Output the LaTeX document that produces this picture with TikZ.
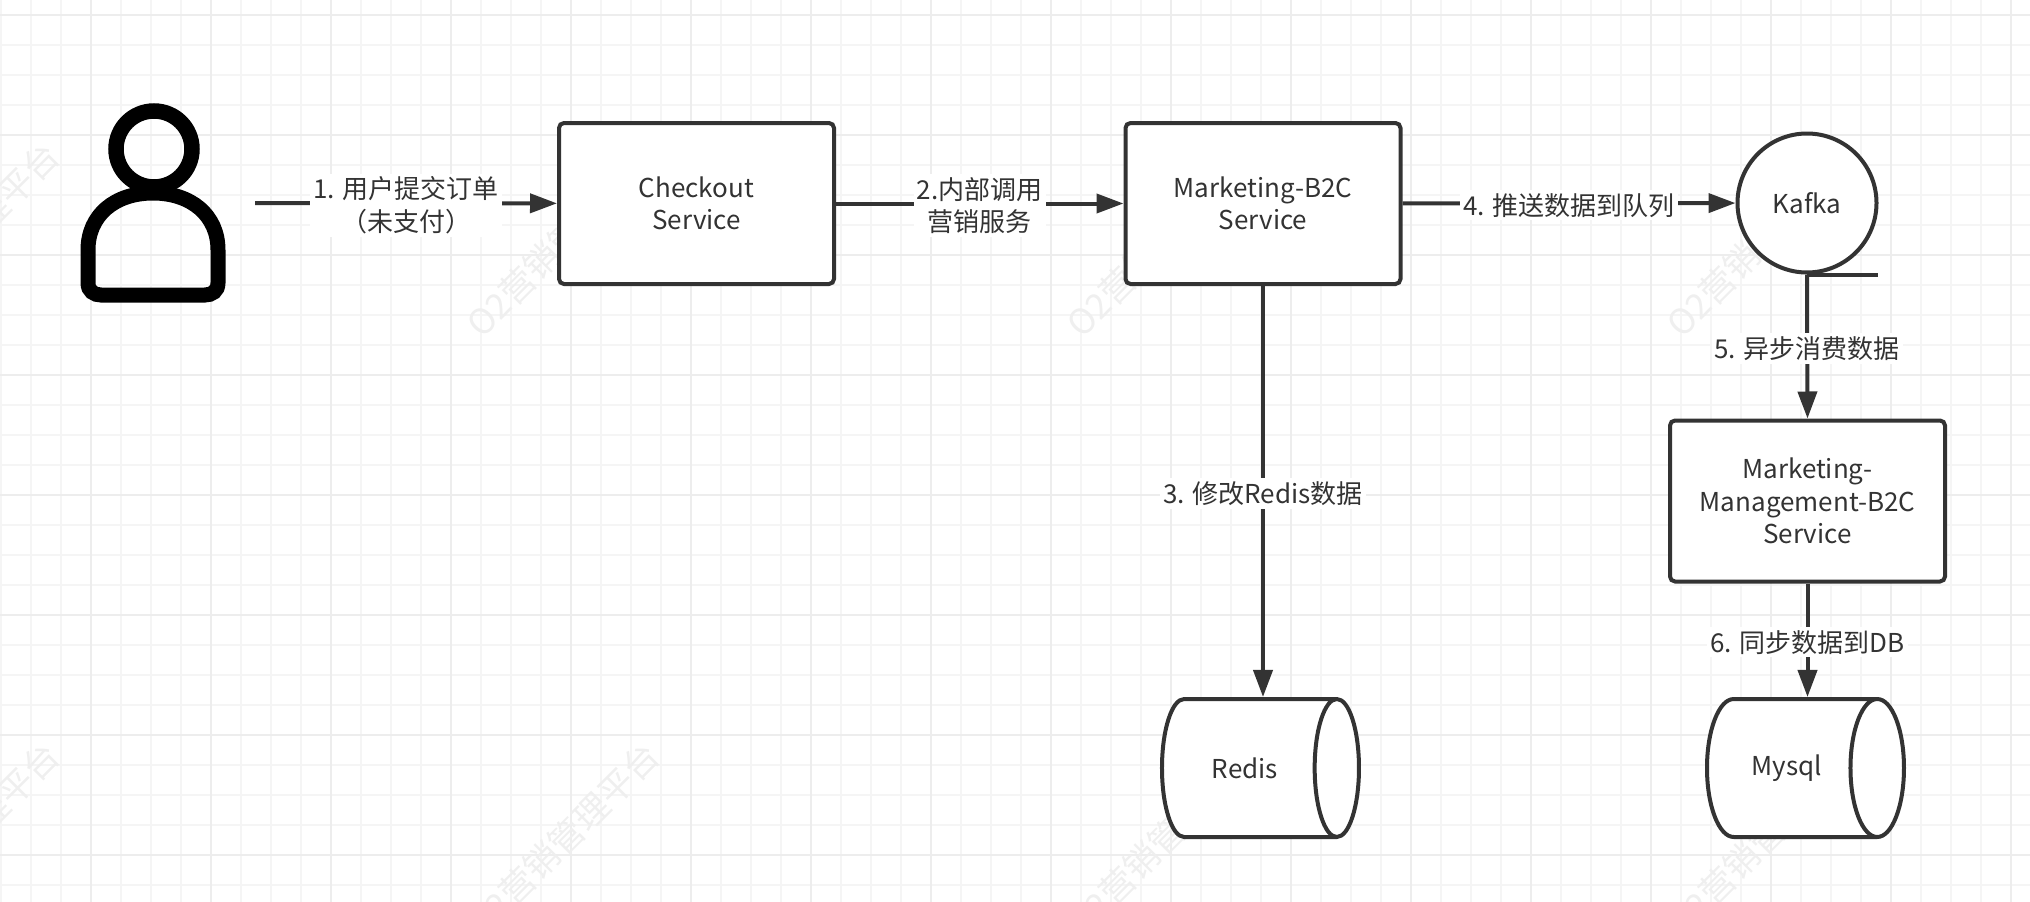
\documentclass[tikz,border=0pt]{standalone}
\usepackage{fontspec}
\setmainfont{Noto Sans CJK SC}
\usetikzlibrary{arrows.meta,shapes.geometric}
\definecolor{myink}{HTML}{333333}
\definecolor{myminor}{HTML}{F5F5F5}
\definecolor{mymajor}{HTML}{EDEDED}
\definecolor{mymark}{HTML}{EFEFEF}
\tikzset{
	boxnode/.style = {draw = myink, line width = 4, fill = white, rounded corners = 5, minimum width = 275, minimum height = 161, align = center},
	kafkanode/.style = {circle, draw = myink, line width = 4, fill = white, minimum size = 139},
	dbnode/.style = {cylinder, draw = myink, line width = 4, fill = white, shape aspect = 1.6, minimum width = 138, minimum height = 197},
	flow/.style = {draw = myink, line width = 4, -{Triangle[length = 27, width = 19]}},
	flowlabel/.style = {fill = white, align = center, inner sep = 3, yshift = -2, text = myink},
	marklabel/.style = {rotate = 45, text = mymark, font = \fontsize{35}{35}\selectfont}
}
\begin{document}
\begin{tikzpicture}[x = 1pt, y = -1pt, font = \fontsize{26}{32.5}\selectfont, text = myink]
\useasboundingbox (0,0) rectangle (2030,902);
\clip (0,0) rectangle (2030,902);
% grid
\foreach \x in {1,31,...,2030}
{
	\draw [myminor, line width = 2] (\x,0) -- (\x,902);
}
\foreach \y in {15,45,...,902}
{
	\draw [myminor, line width = 2] (0,\y) -- (2030,\y);
}
\foreach \x in {91,211,...,2030}
{
	\draw [mymajor, line width = 2] (\x,0) -- (\x,902);
}
\foreach \y in {15,135,...,902}
{
	\draw [mymajor, line width = 2] (0,\y) -- (2030,\y);
}
% watermark
\foreach \x in {-37,563,1163,1763}
{
	\foreach \y in {240,840}
	{
		\node [marklabel] (mark\x\y) at (\x,\y) {O2营销管理平台};
	}
}
% person
\draw [black, line width = 15.5] (154,149) circle (38);
\draw [black, line width = 15] (88,250) .. controls (88,215) and (115,193) .. (153,193) .. controls (191,193) and (218,215) .. (218,250) -- (218,283) .. controls (218,291) and (212,295) .. (205,295) -- (101,295) .. controls (94,295) and (88,291) .. (88,283) -- cycle;
\coordinate (person) at (255,203);
% services
\node [boxnode] (checkout) at (696.5,203.5) {Checkout\\Service};
\node [boxnode] (marketing) at (1263,203.5) {Marketing-B2C\\Service};
\node [boxnode] (management) at (1807.5,501) {Marketing-\\Management-B2C\\Service};
\node [kafkanode] (kafka) at (1807,203) {Kafka};
\node [dbnode] (redis) at (1245,768) {Redis};
\node [dbnode] (mysql) at (1787,768) {Mysql};
% connectors
\draw [flow] (person) -- (checkout) node [midway, flowlabel] (step1) {1. 用户提交订单\\（未支付）};
\draw [flow] (checkout) -- (marketing) node [midway, flowlabel] (step2) {2.内部调用\\营销服务};
\draw [flow] (marketing.south) -- (marketing |- redis.north) node [midway, flowlabel] (step3) {3. 修改Redis数据};
\draw [flow] (marketing) -- (kafka) node [midway, flowlabel] (step4) {4. 推送数据到队列};
\draw [myink, line width = 4] (kafka.south) -- ++(71,0); %tail of the queue
\draw [flow] (kafka.south) -- (management.north) node [midway, flowlabel] (step5) {5. 异步消费数据};
\draw [flow] (management.south) -- (management |- mysql.north) node [midway, flowlabel] (step6) {6. 同步数据到DB};
\end{tikzpicture}
\end{document}
